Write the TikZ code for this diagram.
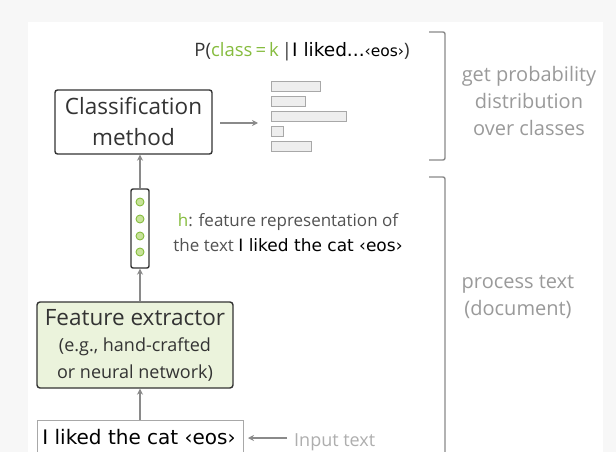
\documentclass[tikz,border=0pt]{standalone}
\usepackage{fontspec}
\setmainfont{Open Sans}
\newfontfamily\comicfont{DejaVu Sans}
\usetikzlibrary{arrows.meta,positioning}
\definecolor{dark}{HTML}{333333}
\definecolor{linegray}{HTML}{8A8A8A}
\definecolor{lightgray}{HTML}{9A9A9A}
\definecolor{green1}{HTML}{86BC3E}
\definecolor{greenfill}{HTML}{C8E39A}
\definecolor{fefill}{HTML}{EBF3DC}
\definecolor{barfill}{HTML}{EEEEEE}
\definecolor{bargray}{HTML}{A8A8A8}
\definecolor{outer}{HTML}{F7F7F7}
\tikzset{
  x=1pt, y=-1pt,
  box/.style={draw=dark, line width=1.4pt, rounded corners=2.5pt, inner sep=0pt, align=center, text=dark},
  conn/.style={draw=linegray, line width=1.4pt, -{Stealth[length=6pt,width=6pt]}},
  bar/.style={draw=bargray, fill=barfill, line width=1pt, minimum height=10pt, inner sep=0pt, anchor=north west},
  brk/.style={draw=linegray, line width=1.4pt, rounded corners=2pt},
  side/.style={text=lightgray, align=center, font=\fontsize{20}{27}\selectfont},
  cell/.style={circle, draw=green1, fill=greenfill, line width=0.9pt, minimum size=8pt, inner sep=0pt}
}
\begin{document}
\begin{tikzpicture}
\clip (0,0) rectangle (616,452);
\useasboundingbox (0,0) rectangle (616,452);
\fill[outer] (0,0) rectangle (616,452);
\fill[white] (28,22) rectangle (603,452);

% classification
\node[box, minimum width=157pt, minimum height=64pt, font=\fontsize{22.5}{31}\selectfont] (cls) at (133.5,122) {Classification\\method};

% probability text
\node[text=dark, font=\fontsize{18.5}{23}\selectfont, inner sep=0pt] (pt) at (302,52)
  {P(\textcolor{green1}{class\,=\,k}\,|{\color{black}\comicfont I liked...\fontsize{15.5}{20}\selectfont‹eos›})};

% bars
\node[bar, minimum width=49pt] (b1) at (271,81) {};
\node[bar, minimum width=34pt] (b2) at (271,96) {};
\node[bar, minimum width=75pt] (b3) at (271,111) {};
\node[bar, minimum width=12pt] (b4) at (271,126) {};
\node[bar, minimum width=40pt] (b5) at (271,141) {};

\coordinate (a1s) at (220,123);
\coordinate (a1e) at (258,123);
\draw[conn] (a1s) -- (a1e);

% vector
\node[box, minimum width=18pt, minimum height=79pt, rounded corners=2pt] (vec) at (140,228.5) {};
\node[cell] (c1) at (140,202) {};
\node[cell] (c2) at (140,219) {};
\node[cell] (c3) at (140,236) {};
\node[cell] (c4) at (140,252) {};

\node[text=dark!85, align=center, font=\fontsize{17}{25}\selectfont, inner sep=0pt] (htext) at (288,233)
  {\textcolor{green1}{h}: feature representation of\\the text {\color{black}\comicfont\fontsize{17}{25}\selectfont I liked the cat ‹eos›}};

% feature extractor
\node[box, fill=fefill, minimum width=196pt, minimum height=86pt, rounded corners=3pt,
      font=\fontsize{18}{26.5}\selectfont] (fe) at (135,345)
  {{\fontsize{22.5}{27}\selectfont Feature extractor}\\(e.g., hand-crafted\\or neural network)};

% input
\node[draw=bargray, line width=1pt, fill=white, minimum width=206pt, minimum height=36pt, inner sep=0pt, anchor=north] (inp) at (140,420) {};
\node[text=black, font=\comicfont\fontsize{20}{24}\selectfont, inner sep=0pt, anchor=base] (inptxt) at (139,444) {I liked the cat ‹eos›};

\node[text=lightgray!80, font=\fontsize{18}{22}\selectfont, inner sep=0pt, anchor=base west] (intxt) at (294,446) {Input text};
\coordinate (a5s) at (287,438);
\coordinate (a5e) at (248,438);
\draw[conn] (a5s) -- (a5e);

% vertical arrows
\draw[conn] (vec.north) -- (cls.south -| vec.north);
\draw[conn] (fe.north -| vec.south) -- (vec.south);
\draw[conn] (inp.north) -- (fe.south -| inp.north);

% brackets
\draw[brk] (429,32) -- (445,32) -- (445,160) -- (429,160);
\draw[brk] (429,177) -- (445,177) -- (445,460);

\node[side] (s1) at (529,101) {get probability\\distribution\\over classes};
\node[side] (s2) at (518,297) {process text\\(document)};
\end{tikzpicture}
\end{document}
